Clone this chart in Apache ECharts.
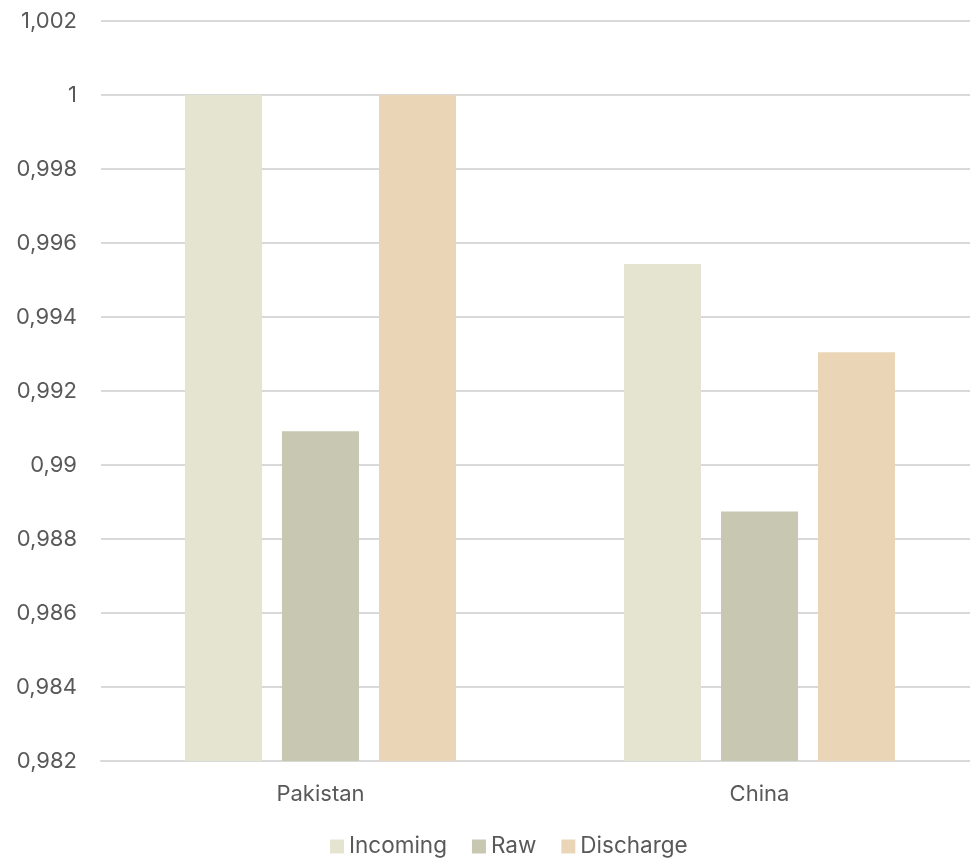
<!DOCTYPE html>
<html><head><meta charset="utf-8">
<script src="https://cdn.jsdelivr.net/npm/echarts@6/dist/echarts.min.js"></script>
<style>html,body{margin:0;padding:0;background:#fff;overflow:hidden}#c{width:979px;height:861px}</style>
</head><body><div id="c"></div>
<script>
const categories = ['Pakistan', 'China'];
const incoming = [1.0, 0.99543];
const raw = [0.99091, 0.98874];
const discharge = [1.0, 0.99305];
const seriesNames = ['Incoming', 'Raw', 'Discharge'];

const fmt = v => {
  let s = (Math.round(v * 1000) / 1000).toString();
  return s.replace('.', ',');
};
const font = 'Inter, Roboto, sans-serif';
const chart = echarts.init(document.getElementById('c'), null, {renderer: 'canvas'});
chart.setOption({
  animation: false,
  color: ['#E5E4D1', '#C8C7B2', '#EAD6B6'],
  grid: {left: 101, right: 0, top: 21, bottom: 100, containLabel: false},
  legend: {
    top: 830, left: 325, itemWidth: 14, itemHeight: 14, itemGap: 25,
    icon: 'rect',
    textStyle: {color: '#595959', fontSize: 22.5, fontFamily: font, padding: [0, 0, 0, 0]},
    data: seriesNames
  },
  xAxis: {
    type: 'category', data: categories,
    axisLine: {lineStyle: {color: '#D9D9D9', width: 2}},
    axisTick: {show: false},
    axisLabel: {color: '#595959', fontSize: 22, fontFamily: font, margin: 22}
  },
  yAxis: {
    type: 'value', min: 0.982, max: 1.002, interval: 0.002,
    axisLine: {show: false}, axisTick: {show: false},
    splitLine: {lineStyle: {color: '#D9D9D9', width: 2}},
    axisLabel: {color: '#595959', fontSize: 22, fontFamily: font, margin: 24, formatter: fmt}
  },
  series: [
    {name: seriesNames[0], type: 'bar', data: incoming, barWidth: 77, barGap: '26%'},
    {name: seriesNames[1], type: 'bar', data: raw, barWidth: 77, barGap: '26%'},
    {name: seriesNames[2], type: 'bar', data: discharge, barWidth: 77, barGap: '26%'}
  ]
});
</script></body></html>
